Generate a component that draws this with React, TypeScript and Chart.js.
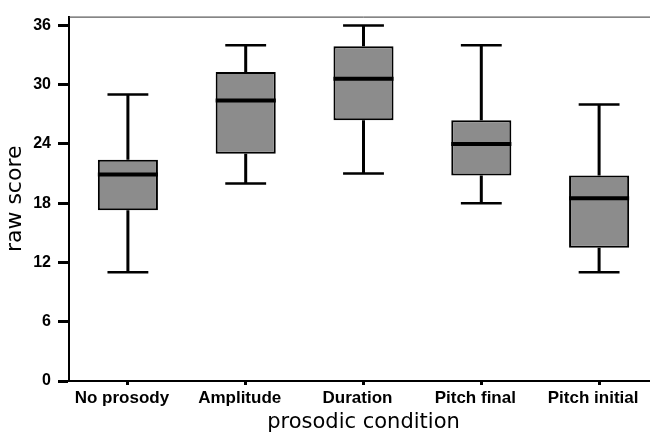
import React, { useEffect, useRef } from "react";
import { Chart, registerables } from "chart.js";

Chart.register(...registerables);

const categories = ["No prosody", "Amplitude", "Duration", "Pitch final", "Pitch initial"];
const minVals = [11, 20, 21, 18, 11];
const q1Vals = [17.3, 23, 26.4, 20.8, 13.5];
const medianVals = [20.9, 28.4, 30.6, 24, 18.5];
const q3Vals = [22.4, 31.3, 33.9, 26.4, 20.8];
const maxVals = [29, 34, 36, 34, 28];
const yTicks = [0, 6, 12, 18, 24, 30, 36];

const boxPlugin = {
  id: "boxWhiskers",
  afterDatasetsDraw(chart: any) {
    const ctx = chart.ctx;
    const meta = chart.getDatasetMeta(0);
    const y = chart.scales.y;
    ctx.save();
    ctx.strokeStyle = "#000";
    meta.data.forEach((bar: any, i: number) => {
      const cx = bar.x;
      const w = bar.width;
      const capHalf = w * 0.34;
      const pMax = y.getPixelForValue(maxVals[i]);
      const pMin = y.getPixelForValue(minVals[i]);
      const pQ1 = y.getPixelForValue(q1Vals[i]);
      const pQ3 = y.getPixelForValue(q3Vals[i]);
      const pMed = y.getPixelForValue(medianVals[i]);
      ctx.lineWidth = 3;
      ctx.beginPath();
      ctx.moveTo(cx, pQ3);
      ctx.lineTo(cx, pMax);
      ctx.moveTo(cx, pQ1);
      ctx.lineTo(cx, pMin);
      ctx.stroke();
      ctx.lineWidth = 2.5;
      ctx.beginPath();
      ctx.moveTo(cx - capHalf, pMax);
      ctx.lineTo(cx + capHalf, pMax);
      ctx.moveTo(cx - capHalf, pMin);
      ctx.lineTo(cx + capHalf, pMin);
      ctx.stroke();
      ctx.lineWidth = 4;
      ctx.beginPath();
      ctx.moveTo(cx - w / 2, pMed);
      ctx.lineTo(cx + w / 2, pMed);
      ctx.stroke();
    });
    const a = chart.chartArea;
    ctx.lineWidth = 1;
    ctx.strokeStyle = "#333";
    ctx.beginPath();
    ctx.moveTo(a.left, a.top + 0.5);
    ctx.lineTo(a.right, a.top + 0.5);
    ctx.lineTo(a.right, a.bottom);
    ctx.stroke();
    ctx.restore();
  },
};

export default function App() {
  const ref = useRef<HTMLCanvasElement>(null);
  useEffect(() => {
    if (!ref.current) return;
    const chart = new Chart(ref.current, {
      type: "bar",
      data: {
        labels: categories,
        datasets: [
          {
            data: categories.map((_, i) => [q1Vals[i], q3Vals[i]]) as any,
            backgroundColor: "#8c8c8c",
            borderColor: "#000",
            borderWidth: 2,
            borderSkipped: false,
            barPercentage: 1,
            categoryPercentage: 0.51,
          },
        ],
      },
      options: {
        responsive: false,
        animation: false,
        layout: { padding: { top: 15, right: 2, left: 0, bottom: 0 } },
        plugins: { legend: { display: false }, tooltip: { enabled: false } },
        scales: {
          x: {
            afterFit: (s: any) => {
              s.height = 58;
            },
            grid: {
              drawOnChartArea: false,
              offset: false,
              tickLength: 4,
              tickWidth: 3,
              tickColor: "#000",
            },
            border: { color: "#000", width: 2 },
            ticks: {
              color: "#000",
              font: { family: "Liberation Sans", size: 17, weight: "bold" },
              padding: 3,
              maxRotation: 0,
              autoSkip: false,
              labelOffset: -6,
            },
            title: {
              display: true,
              text: "prosodic condition",
              color: "#000",
              font: { family: "DejaVu Sans", size: 21 },
              padding: { top: 0, bottom: 4 },
            },
          },
          y: {
            min: 0,
            max: 36.9,
            afterFit: (s: any) => {
              s.width = 69;
            },
            afterBuildTicks: (s: any) => {
              s.ticks = yTicks.map((v) => ({ value: v }));
            },
            grid: {
              drawOnChartArea: false,
              tickLength: 11,
              tickWidth: 3,
              tickColor: "#000",
            },
            border: { color: "#000", width: 2 },
            ticks: {
              color: "#000",
              font: { family: "Liberation Sans", size: 16, weight: "bold" },
              padding: 7,
            },
            title: {
              display: true,
              text: "raw score",
              color: "#000",
              font: { family: "DejaVu Sans", size: 22 },
              padding: { top: 2, bottom: 0 },
            },
          },
        },
      },
      plugins: [boxPlugin],
    });
    return () => chart.destroy();
  }, []);
  return (
    <div style={{ position: "fixed", left: 0, top: 0, width: 650, height: 439, overflow: "hidden", background: "#fff" }}>
      <canvas ref={ref} width={660} height={439} style={{ width: 660, height: 439, display: "block" }} />
    </div>
  );
}
